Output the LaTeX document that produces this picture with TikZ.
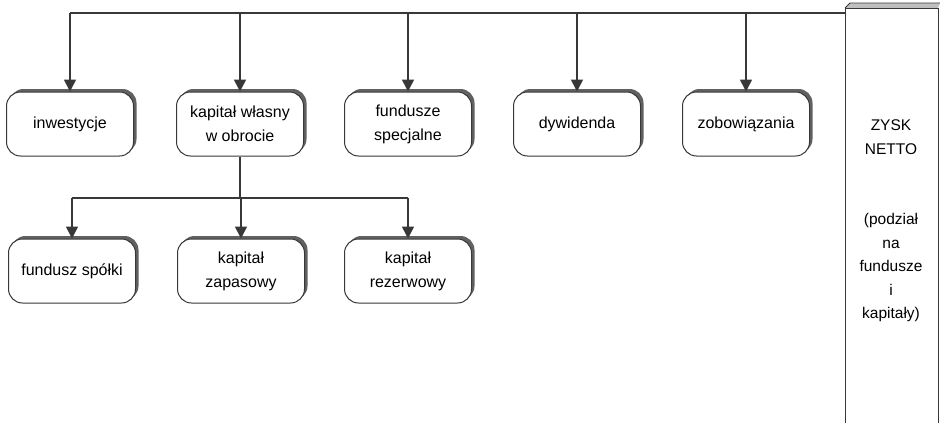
\documentclass[tikz,border=0pt]{standalone}
\usepackage{fontspec}
\setmainfont{Liberation Sans}
\usetikzlibrary{arrows.meta,shadows}
\definecolor{ink}{gray}{0.22}
\definecolor{shade}{gray}{0.38}
\tikzset{
  unitbox/.style={draw=ink, line width=1pt, rounded corners=14pt, fill=white,
    minimum width=127pt, minimum height=64pt, align=center, inner sep=2pt,
    font=\fontsize{16}{24}\selectfont,
    general shadow={shadow xshift=3pt, shadow yshift=3pt, fill=shade}},
  conn/.style={draw=ink, line width=1.7pt},
  arr/.style={conn, -{Triangle[width=12pt,length=12pt]}},
  sidetext/.style={align=center, font=\fontsize{15.5}{23.5}\selectfont},
}
\begin{document}
\begin{tikzpicture}[x=1pt, y=-1pt]
  \useasboundingbox (0,0) rectangle (940,423);

  % profit column on the right, with a bevelled top face
  \fill[shade!40] (845,8) -- (850,3) -- (940,3) -- (938,8) -- cycle;
  \draw[ink, line width=0.8pt] (845,8) -- (850,3) -- (940,3);
  \node[draw=ink, line width=1pt, fill=white, minimum width=93pt, minimum height=415pt,
        anchor=north west] (zysk) at (845,8) {};
  \node[sidetext] (zysktxt) at (891,221)
    {ZYSK\\NETTO\\[47pt](podział\\na\\fundusze\\i\\kapitały)};

  % first level
  \node[unitbox] (inw) at (70,124)  {inwestycje};
  \node[unitbox] (kw)  at (240,124) {kapitał własny\\w obrocie};
  \node[unitbox] (fsp) at (408,124) {fundusze\\specjalne};
  \node[unitbox] (dyw) at (577,124) {dywidenda};
  \node[unitbox] (zob) at (746,124) {zobowiązania};

  % second level
  \node[unitbox] (fs)  at (72,271)  {fundusz spółki};
  \node[unitbox] (kz)  at (241,271) {kapitał\\zapasowy};
  \node[unitbox] (kr)  at (408,271) {kapitał\\rezerwowy};

  % distribution bus from the profit column
  \coordinate (bus) at (0,13);
  \draw[conn] (inw.north |- bus) -- (zysk.west |- bus);
  \foreach \n in {inw,kw,fsp,dyw,zob}
    \draw[arr] (\n.north |- bus) -- (\n.north);

  % split of own capital
  \coordinate (sub) at (0,198);
  \draw[conn] (kw.south) -- (kw.south |- sub);
  \draw[conn] (fs.north |- sub) -- (kr.north |- sub);
  \foreach \n in {fs,kz,kr}
    \draw[arr] (\n.north |- sub) -- (\n.north);
\end{tikzpicture}
\end{document}
